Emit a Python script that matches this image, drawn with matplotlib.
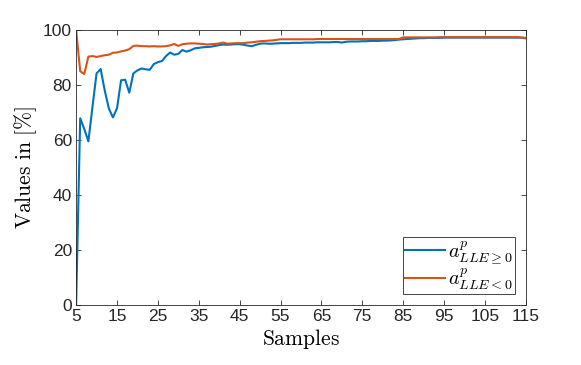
import matplotlib
matplotlib.use('Agg')
import matplotlib.pyplot as plt
import numpy as np

# Data (samples 5..115)
samples = list(range(5, 116))

acc_pos = [0.0, 67.9, 64.0, 59.5, 72.0, 84.2, 85.8, 78.0, 71.5, 68.2,
           71.5, 81.7, 81.9, 77.2, 84.2, 85.3, 86.0, 85.7, 85.5, 87.6,
           88.3, 88.7, 90.5, 91.8, 91.0, 91.3, 92.7, 92.1, 92.6, 93.3,
           93.5, 93.7, 93.8, 93.9, 94.2, 94.5, 94.7, 94.6, 94.7, 94.8,
           94.8, 94.6, 94.3, 94.1, 94.6, 95.0, 95.1, 95.0, 95.0, 95.1,
           95.2, 95.2, 95.2, 95.3, 95.3, 95.3, 95.4, 95.4, 95.4, 95.5,
           95.5, 95.5, 95.5, 95.6, 95.6, 95.4, 95.7, 95.8, 95.8, 95.8,
           95.9, 95.9, 96.0, 96.0, 96.0, 96.1, 96.1, 96.2, 96.3, 96.5,
           96.6, 96.7, 96.8, 96.9, 97.0, 97.0, 97.1, 97.1, 97.1, 97.1,
           97.2, 97.2, 97.2, 97.2, 97.2, 97.2, 97.2, 97.2, 97.2, 97.2,
           97.2, 97.2, 97.2, 97.2, 97.2, 97.2, 97.2, 97.2, 97.2, 97.2,
           97.1]

acc_neg = [100.0, 85.0, 84.0, 90.3, 90.5, 90.2, 90.5, 90.8, 91.0, 91.7,
           91.8, 92.2, 92.5, 93.0, 94.2, 94.3, 94.1, 94.1, 94.0, 94.1,
           94.0, 94.0, 94.1, 94.4, 94.9, 94.2, 94.8, 95.0, 95.1, 95.1,
           95.0, 94.9, 94.7, 94.8, 94.9, 95.1, 95.4, 95.0, 95.1, 95.2,
           95.2, 95.2, 95.4, 95.5, 95.7, 95.9, 96.0, 96.1, 96.2, 96.4,
           96.6, 96.6, 96.6, 96.6, 96.6, 96.6, 96.6, 96.6, 96.6, 96.7,
           96.7, 96.7, 96.7, 96.7, 96.7, 96.7, 96.7, 96.7, 96.7, 96.7,
           96.7, 96.7, 96.7, 96.7, 96.7, 96.7, 96.7, 96.7, 96.7, 96.7,
           97.3, 97.3, 97.3, 97.3, 97.3, 97.3, 97.3, 97.3, 97.3, 97.4,
           97.4, 97.4, 97.4, 97.4, 97.4, 97.4, 97.4, 97.4, 97.4, 97.4,
           97.4, 97.4, 97.4, 97.4, 97.4, 97.4, 97.4, 97.4, 97.4, 97.2,
           96.9]

xticks = list(range(5, 116, 10))
yticks = [0, 20, 40, 60, 80, 100]

plt.rcParams['font.family'] = ['Liberation Sans', 'DejaVu Sans']
plt.rcParams['mathtext.fontset'] = 'cm'

fig = plt.figure(figsize=(5.81, 3.65), dpi=100)
ax = fig.add_axes([0.131, 0.164, 0.774, 0.754])

ax.plot(samples, acc_pos, color='#0072BD', lw=1.5, label=r'$a^p_{LLE\geq0}$')
ax.plot(samples, acc_neg, color='#D95319', lw=1.5, label=r'$a^p_{LLE<0}$')

ax.set_xlim(5, 115)
ax.set_ylim(0, 100)
ax.set_xticks(xticks)
ax.set_yticks(yticks)
ax.tick_params(direction='in', top=True, right=True, length=3.5,
               labelsize=12.5, colors='#262626', width=0.6, pad=3)
for s in ax.spines.values():
    s.set_color('#262626')
    s.set_linewidth(0.6)

ax.set_xlabel(r'$\mathrm{Samples}$', fontsize=15.5, labelpad=2)
ax.set_ylabel(r'$\mathrm{Values\ in\ [\%]}$', fontsize=15.5, labelpad=3)

leg = ax.legend(loc='lower right', fontsize=14.5, fancybox=False,
                framealpha=1, edgecolor='#262626', handlelength=2.0,
                borderaxespad=0.55, labelspacing=0.05, borderpad=0.1,
                handletextpad=0.15)
leg.get_frame().set_linewidth(0.6)

fig.savefig('out.png', dpi=100)
